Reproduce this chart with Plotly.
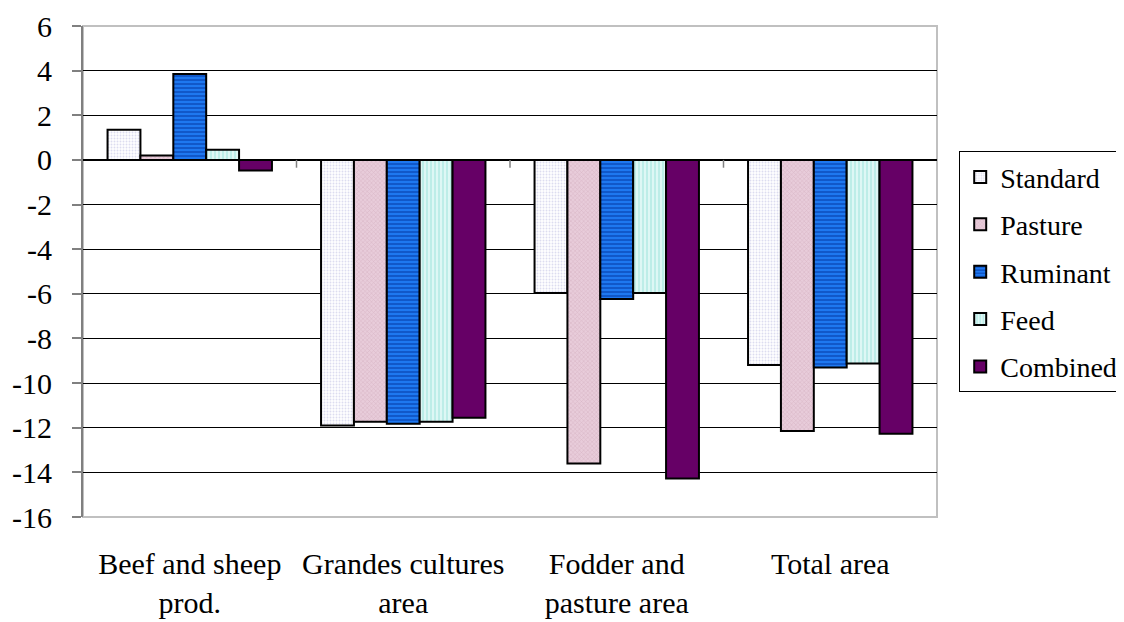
import plotly.graph_objects as go

categories = ["Beef and sheep<br>prod.", "Grandes cultures<br>area", "Fodder and<br>pasture area", "Total area"]
series_names = ["Standard", "Pasture", "Ruminant", "Feed", "Combined"]
standard = [1.35, -11.9, -5.96, -9.19]
pasture = [0.2, -11.73, -13.6, -12.15]
ruminant = [3.85, -11.82, -6.23, -9.3]
feed = [0.45, -11.73, -5.96, -9.12]
combined = [-0.48, -11.55, -14.27, -12.27]
y_tickvals = [6, 4, 2, 0, -2, -4, -6, -8, -10, -12, -14, -16]
y_ticktext = ["6", "4", "2", "0", "-2", "-4", "-6", "-8", "-10", "-12", "-14", "-16"]

values = [standard, pasture, ruminant, feed, combined]
styles = [
    dict(bgcolor="#FFFFFF", fgcolor="#DCDCF0", shape=".", size=3, solidity=0.3),
    dict(bgcolor="#E8CCDA", fgcolor="#D7B4C4", shape="x", size=3, solidity=0.3),
    dict(bgcolor="#1E78F0", fgcolor="#0D4FBF", shape="-", size=4, solidity=0.4),
    dict(bgcolor="#BDEDE8", fgcolor="#F4FFFE", shape="|", size=4, solidity=0.3),
    dict(bgcolor="#660066", fgcolor="#660066", shape="", size=4, solidity=1),
]

FONT = "Liberation Serif"
FS = 30

fig = go.Figure()
x_idx = list(range(len(categories)))
for name, vals, st in zip(series_names, values, styles):
    pattern = dict(shape=st["shape"], bgcolor=st["bgcolor"], fgcolor=st["fgcolor"],
                   size=st["size"], solidity=st["solidity"], fillmode="replace")
    fig.add_trace(go.Bar(
        x=x_idx, y=vals, name=name, legendgroup=name,
        marker=dict(color=st["bgcolor"], pattern=pattern,
                    line=dict(color="#000000", width=2)),
    ))

# category boundary ticks on the zero line
for b in [0.5, 1.5, 2.5]:
    fig.add_shape(type="line", xref="x", yref="y", x0=b, x1=b, y0=0, y1=-0.35,
                  line=dict(color="#808080", width=1.5))

# plot area border
fig.add_shape(type="rect", xref="paper", yref="paper", x0=0, x1=1, y0=0, y1=1,
              line=dict(color="#C0C0C0", width=2), layer="below")

fig.update_layout(
    width=1124, height=622,
    margin=dict(l=75, r=195, t=18, b=113, autoexpand=False),
    paper_bgcolor="white", plot_bgcolor="white",
    barmode="group", bargap=0.23, bargroupgap=0,
    font=dict(family=FONT, size=FS, color="#000000"),
    showlegend=True,
    legend=dict(x=1.026, y=0.745, xanchor="left", yanchor="top",
                bordercolor="#000000", borderwidth=1, bgcolor="white",
                font=dict(family=FONT, size=28, color="#000000"),
                tracegroupgap=8, itemwidth=30, traceorder="grouped"),
    xaxis=dict(tickvals=x_idx, ticktext=categories, range=[-0.5, 3.5],
               showgrid=False, showline=False, ticks="", zeroline=False,
               automargin=False,
               tickfont=dict(family=FONT, size=FS, color="#000000"),
               ticklabelstandoff=26),
    yaxis=dict(range=[-16, 6], tickvals=y_tickvals, ticktext=y_ticktext,
               tickfont=dict(family=FONT, size=FS, color="#000000"),
               automargin=False,
               showgrid=True, gridcolor="#000000", gridwidth=1,
               zeroline=True, zerolinecolor="#000000", zerolinewidth=1.5,
               showline=True, linecolor="#808080", linewidth=2,
               ticks="outside", ticklen=9, tickcolor="#808080", tickwidth=1.5,
               ticklabelstandoff=14),
)

fig.write_html("out.html")
